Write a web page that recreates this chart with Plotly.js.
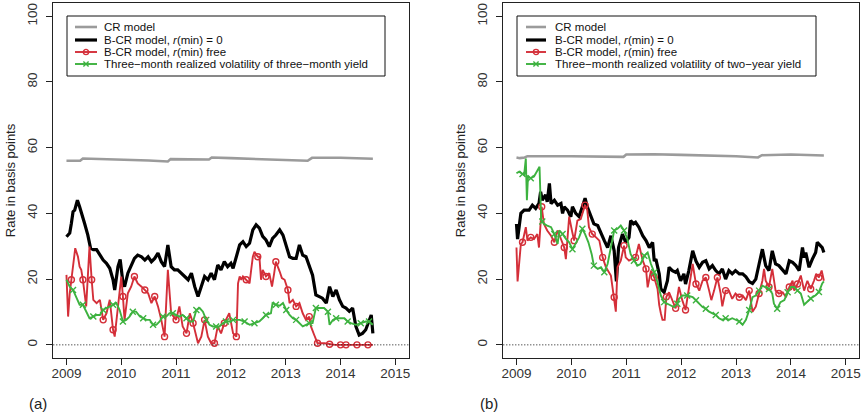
<!DOCTYPE html>
<html>
<head>
<meta charset="utf-8">
<script src="https://cdn.plot.ly/plotly-3.0.1.min.js"></script>
<style>
  html, body { margin: 0; padding: 0; background: #fff; }
  #chart { width: 865px; height: 418px; }
</style>
</head>
<body>
<div id="chart"></div>
<script>
// ---------- Panel (a): three-month yield ----------
const crDatesA = [2009.00, 2009.25, 2009.30, 2009.60, 2010.00, 2010.50, 2010.85, 2010.90, 2011.60, 2011.65,
  2012.00, 2012.50, 2013.00, 2013.40, 2013.48, 2014.00, 2014.59];
const crA = [56.0, 56.0, 56.7, 56.6, 56.4, 56.1, 55.8, 56.5, 56.4, 57.0,
  56.8, 56.5, 56.2, 56.0, 56.9, 56.9, 56.6];

const bcrZeroDatesA = [2009.00, 2009.03, 2009.06, 2009.09, 2009.12, 2009.15, 2009.20, 2009.24, 2009.27, 2009.33,
  2009.39, 2009.44, 2009.49, 2009.55, 2009.61, 2009.67, 2009.73, 2009.79, 2009.85, 2009.88,
  2009.94, 2009.98, 2010.03, 2010.06, 2010.12, 2010.18, 2010.24, 2010.30, 2010.37, 2010.43,
  2010.49, 2010.55, 2010.61, 2010.67, 2010.73, 2010.79, 2010.85, 2010.91, 2010.97, 2011.03,
  2011.09, 2011.15, 2011.22, 2011.28, 2011.34, 2011.40, 2011.46, 2011.52, 2011.58, 2011.64,
  2011.70, 2011.76, 2011.82, 2011.88, 2011.94, 2012.00, 2012.04, 2012.10, 2012.16, 2012.22,
  2012.28, 2012.34, 2012.40, 2012.46, 2012.52, 2012.58, 2012.64, 2012.70, 2012.76, 2012.82,
  2012.89, 2012.95, 2013.01, 2013.07, 2013.13, 2013.19, 2013.25, 2013.31, 2013.37, 2013.43,
  2013.49, 2013.55, 2013.61, 2013.67, 2013.74, 2013.80, 2013.86, 2013.92, 2013.98, 2014.04,
  2014.10, 2014.16, 2014.22, 2014.28, 2014.34, 2014.40, 2014.46, 2014.53, 2014.56, 2014.59];
const bcrZeroA = [32.9, 33.5, 34.0, 37.0, 40.5, 41.0, 44.0, 42.0, 40.0, 37.0,
  33.4, 29.4, 29.0, 29.0, 27.4, 25.8, 24.8, 23.3, 19.8, 16.7,
  23.8, 26.0, 19.0, 17.7, 21.8, 24.0, 26.3, 27.3, 26.8, 25.8,
  26.8, 25.3, 26.3, 27.9, 25.3, 23.8, 30.4, 23.8, 22.8, 22.8,
  21.8, 20.8, 19.8, 21.8, 17.7, 14.7, 17.7, 20.8, 19.8, 21.8,
  19.8, 24.3, 22.8, 25.3, 23.8, 24.8, 23.3, 26.8, 30.4, 31.4,
  29.9, 30.9, 35.0, 36.5, 35.5, 33.0, 31.9, 29.9, 32.4, 33.4,
  35.0, 33.4, 29.9, 26.8, 26.3, 26.3, 30.4, 27.3, 26.8, 24.3,
  21.2, 15.2, 14.7, 14.2, 12.7, 17.7, 14.7, 16.7, 13.7, 11.7,
  11.2, 10.2, 11.2, 5.6, 3.0, 3.5, 4.6, 7.6, 9.1, 3.5];

const bcrFreeDatesA = [2009.00, 2009.03, 2009.06, 2009.09, 2009.12, 2009.16, 2009.21, 2009.24, 2009.27, 2009.30,
  2009.36, 2009.42, 2009.46, 2009.49, 2009.55, 2009.61, 2009.67, 2009.73, 2009.79, 2009.85,
  2009.88, 2009.94, 2010.00, 2010.03, 2010.06, 2010.12, 2010.18, 2010.24, 2010.30, 2010.37,
  2010.43, 2010.49, 2010.55, 2010.61, 2010.67, 2010.73, 2010.79, 2010.85, 2010.91, 2011.00,
  2011.06, 2011.12, 2011.19, 2011.25, 2011.31, 2011.40, 2011.46, 2011.52, 2011.58, 2011.64,
  2011.70, 2011.76, 2011.82, 2011.88, 2011.97, 2012.04, 2012.10, 2012.13, 2012.16, 2012.19,
  2012.22, 2012.28, 2012.34, 2012.37, 2012.40, 2012.43, 2012.49, 2012.52, 2012.55, 2012.58,
  2012.64, 2012.70, 2012.75, 2012.79, 2012.82, 2012.89, 2012.93, 2012.98, 2013.04, 2013.07,
  2013.13, 2013.19, 2013.25, 2013.31, 2013.37, 2013.43, 2013.46, 2013.52, 2013.58, 2013.71,
  2013.80, 2013.90, 2014.00, 2014.10, 2014.20, 2014.30, 2014.40, 2014.50, 2014.59];
const bcrFreeA = [21.3, 8.6, 15.7, 19.8, 22.8, 29.4, 26.8, 23.8, 22.8, 19.8,
  11.7, 29.9, 19.8, 13.7, 12.7, 13.7, 7.6, 9.6, 13.7, 4.6,
  2.5, 12.7, 20.8, 14.7, 7.6, 15.7, 17.7, 20.8, 18.7, 17.7,
  16.7, 15.7, 12.7, 14.7, 11.7, 7.6, 2.5, 22.8, 9.6, 7.6,
  11.7, 5.6, 3.5, 9.6, 6.6, 0.5, 2.5, 7.6, 2.5, 0.5,
  0.5, 5.6, 3.5, 6.6, 9.6, 3.5, 2.5, 18.7, 20.8, 19.8,
  20.8, 19.8, 18.7, 22.8, 26.8, 28.3, 26.8, 26.8, 19.8, 22.8,
  20.8, 21.8, 17.7, 21.8, 25.3, 22.3, 20.3, 19.8, 16.7, 12.7,
  13.7, 11.7, 12.7, 9.6, 7.6, 8.6, 5.6, 3.0, 0.5, 0.5,
  0.2, 0, 0, 0, 0, 0, 0, 0, 0];

const rvolDatesA = [2009.00, 2009.06, 2009.12, 2009.18, 2009.24, 2009.30, 2009.36, 2009.42, 2009.49, 2009.55,
  2009.61, 2009.67, 2009.73, 2009.79, 2009.85, 2009.91, 2009.97, 2010.03, 2010.09, 2010.15,
  2010.21, 2010.27, 2010.34, 2010.40, 2010.46, 2010.52, 2010.58, 2010.64, 2010.70, 2010.76,
  2010.82, 2010.88, 2010.94, 2011.00, 2011.06, 2011.12, 2011.19, 2011.25, 2011.31, 2011.37,
  2011.43, 2011.49, 2011.55, 2011.61, 2011.67, 2011.73, 2011.79, 2011.85, 2011.91, 2011.97,
  2012.04, 2012.16, 2012.25, 2012.34, 2012.43, 2012.52, 2012.58, 2012.64, 2012.73, 2012.76,
  2012.82, 2012.89, 2012.95, 2013.01, 2013.07, 2013.13, 2013.19, 2013.25, 2013.31, 2013.37,
  2013.43, 2013.49, 2013.55, 2013.64, 2013.70, 2013.77, 2013.80, 2013.86, 2013.92, 2014.01,
  2014.07, 2014.13, 2014.19, 2014.28, 2014.37, 2014.46, 2014.52, 2014.59];
const rvolA = [19.8, 17.7, 16.7, 14.2, 12.2, 12.2, 10.1, 8.1, 8.6, 9.1,
  9.1, 10.6, 11.2, 11.7, 12.2, 12.7, 10.6, 7.1, 7.6, 8.6,
  10.1, 10.1, 8.6, 8.1, 7.6, 7.6, 6.1, 6.1, 7.1, 8.6,
  8.6, 9.6, 9.6, 9.1, 8.6, 9.1, 8.1, 7.1, 7.1, 10.6,
  11.2, 10.1, 7.6, 6.1, 5.6, 5.6, 5.6, 6.6, 7.1, 7.1,
  7.6, 7.6, 7.1, 6.1, 6.6, 7.1, 8.1, 9.1, 9.6, 12.7,
  12.2, 11.9, 12.7, 10.6, 9.1, 8.1, 7.6, 6.6, 5.6, 6.1,
  6.6, 6.6, 11.2, 11.2, 11.2, 10.1, 6.1, 7.6, 8.1, 8.1,
  8.1, 7.1, 6.6, 6.1, 6.6, 7.1, 7.1, 6.1];

// ---------- Panel (b): two-year yield ----------
const crDatesB = [2009.00, 2009.06, 2009.15, 2009.20, 2010.00, 2010.95, 2011.00, 2011.50, 2012.00, 2012.50,
  2013.00, 2013.40, 2013.47, 2014.00, 2014.60];
const crB = [57.0, 56.8, 57.0, 57.4, 57.4, 57.2, 57.9, 58.0, 57.8, 57.6,
  57.4, 57.0, 57.7, 57.9, 57.6];

const bcrZeroDatesB = [2009.00, 2009.02, 2009.08, 2009.14, 2009.23, 2009.29, 2009.35, 2009.41, 2009.44, 2009.47,
  2009.53, 2009.56, 2009.60, 2009.63, 2009.69, 2009.75, 2009.81, 2009.84, 2009.87, 2009.93,
  2009.99, 2010.02, 2010.08, 2010.14, 2010.20, 2010.25, 2010.29, 2010.35, 2010.41, 2010.48,
  2010.54, 2010.60, 2010.66, 2010.72, 2010.78, 2010.82, 2010.86, 2010.93, 2010.99, 2011.05,
  2011.08, 2011.13, 2011.17, 2011.23, 2011.30, 2011.36, 2011.42, 2011.48, 2011.51, 2011.54,
  2011.60, 2011.63, 2011.69, 2011.75, 2011.78, 2011.84, 2011.90, 2011.93, 2011.99, 2012.05,
  2012.08, 2012.14, 2012.21, 2012.27, 2012.33, 2012.39, 2012.45, 2012.51, 2012.57, 2012.63,
  2012.69, 2012.75, 2012.81, 2012.87, 2012.93, 2012.99, 2013.06, 2013.12, 2013.18, 2013.24,
  2013.30, 2013.36, 2013.42, 2013.48, 2013.54, 2013.60, 2013.66, 2013.72, 2013.78, 2013.85,
  2013.91, 2013.97, 2014.03, 2014.09, 2014.15, 2014.21, 2014.24, 2014.27, 2014.33, 2014.39,
  2014.45, 2014.48, 2014.53, 2014.57, 2014.60];
const bcrZeroB = [36.8, 32.2, 40.0, 41.0, 41.0, 42.5, 41.5, 43.0, 46.6, 44.0,
  45.6, 43.5, 49.1, 43.0, 44.0, 42.5, 43.0, 40.0, 42.0, 41.0,
  39.0, 42.0, 40.0, 39.0, 42.0, 44.6, 42.0, 39.5, 36.8, 36.3,
  33.7, 31.7, 29.6, 33.2, 28.6, 19.3, 29.6, 33.7, 31.2, 32.7,
  37.8, 36.8, 37.3, 35.8, 33.2, 31.7, 29.6, 31.2, 25.5, 26.1,
  21.6, 17.0, 16.0, 19.5, 23.6, 22.6, 22.1, 22.6, 19.5, 21.6,
  18.5, 22.6, 28.6, 25.5, 23.6, 25.1, 25.6, 23.1, 24.1, 22.6,
  21.6, 23.1, 20.0, 22.6, 21.6, 22.6, 21.6, 21.6, 20.7, 19.2,
  18.7, 20.0, 24.6, 29.1, 24.1, 22.6, 28.6, 24.6, 24.1, 22.6,
  21.6, 25.6, 25.1, 24.1, 22.6, 29.6, 26.6, 28.1, 23.6, 26.1,
  28.1, 31.2, 30.2, 29.6, 28.1];

const bcrFreeDatesB = [2009.00, 2009.02, 2009.08, 2009.11, 2009.17, 2009.20, 2009.26, 2009.32, 2009.38, 2009.41,
  2009.46, 2009.50, 2009.56, 2009.63, 2009.69, 2009.75, 2009.81, 2009.87, 2009.90, 2009.96,
  2010.01, 2010.05, 2010.11, 2010.17, 2010.25, 2010.29, 2010.32, 2010.38, 2010.45, 2010.51,
  2010.57, 2010.63, 2010.72, 2010.78, 2010.81, 2010.84, 2010.90, 2010.96, 2010.99, 2011.05,
  2011.11, 2011.17, 2011.23, 2011.30, 2011.36, 2011.39, 2011.45, 2011.51, 2011.57, 2011.60,
  2011.63, 2011.66, 2011.70, 2011.73, 2011.78, 2011.84, 2011.90, 2011.96, 2012.02, 2012.08,
  2012.14, 2012.21, 2012.27, 2012.33, 2012.39, 2012.45, 2012.51, 2012.55, 2012.60, 2012.66,
  2012.72, 2012.75, 2012.81, 2012.87, 2012.93, 2012.99, 2013.06, 2013.12, 2013.18, 2013.24,
  2013.30, 2013.36, 2013.42, 2013.48, 2013.51, 2013.54, 2013.60, 2013.66, 2013.72, 2013.78,
  2013.85, 2013.91, 2013.97, 2014.03, 2014.06, 2014.12, 2014.18, 2014.24, 2014.30, 2014.36,
  2014.42, 2014.46, 2014.51, 2014.56, 2014.60];
const bcrFreeB = [29.6, 19.3, 30.7, 31.2, 35.8, 31.7, 32.7, 32.2, 33.7, 29.6,
  42.0, 36.8, 34.8, 33.2, 31.2, 34.8, 32.2, 29.6, 26.1, 39.0,
  34.8, 31.7, 37.8, 38.3, 42.5, 41.0, 35.8, 33.7, 32.7, 31.7,
  26.6, 23.6, 21.1, 14.5, 10.1, 23.6, 25.6, 30.2, 26.6, 25.6,
  26.1, 26.6, 30.7, 25.6, 23.1, 17.5, 22.6, 20.5, 17.0, 12.2,
  9.6, 7.6, 7.6, 14.6, 16.0, 13.6, 11.1, 17.6, 13.6, 10.6,
  17.6, 24.6, 18.5, 16.5, 19.5, 20.5, 16.5, 13.6, 16.5, 20.5,
  15.6, 11.7, 16.5, 16.5, 14.0, 15.6, 14.5, 15.0, 13.6, 16.5,
  10.1, 11.6, 15.6, 19.5, 23.1, 19.5, 17.6, 23.1, 16.5, 15.6,
  16.0, 14.5, 17.6, 19.5, 16.5, 18.5, 21.1, 16.5, 19.5, 17.0,
  19.5, 21.6, 20.5, 22.6, 19.5];

const rvolDatesB = [2009.00, 2009.05, 2009.11, 2009.14, 2009.17, 2009.19, 2009.21, 2009.26, 2009.32, 2009.38,
  2009.42, 2009.45, 2009.47, 2009.50, 2009.56, 2009.63, 2009.69, 2009.75, 2009.78, 2009.84,
  2009.90, 2009.96, 2010.02, 2010.08, 2010.14, 2010.20, 2010.25, 2010.31, 2010.37, 2010.41,
  2010.48, 2010.54, 2010.60, 2010.66, 2010.72, 2010.78, 2010.84, 2010.90, 2010.96, 2011.02,
  2011.08, 2011.14, 2011.20, 2011.26, 2011.33, 2011.39, 2011.45, 2011.51, 2011.57, 2011.63,
  2011.69, 2011.75, 2011.81, 2011.87, 2011.93, 2011.96, 2012.02, 2012.11, 2012.21, 2012.27,
  2012.33, 2012.39, 2012.45, 2012.51, 2012.57, 2012.63, 2012.69, 2012.75, 2012.81, 2012.87,
  2012.93, 2012.99, 2013.06, 2013.12, 2013.18, 2013.24, 2013.30, 2013.36, 2013.42, 2013.48,
  2013.54, 2013.60, 2013.66, 2013.69, 2013.75, 2013.81, 2013.88, 2013.94, 2014.00, 2014.06,
  2014.12, 2014.18, 2014.24, 2014.30, 2014.36, 2014.45, 2014.51, 2014.57, 2014.60];
const rvolB = [52.2, 52.7, 52.0, 51.7, 56.7, 44.0, 51.2, 50.7, 51.2, 53.2,
  54.2, 38.0, 37.5, 36.8, 36.3, 35.8, 33.7, 30.7, 34.8, 33.7,
  32.2, 31.2, 29.1, 30.7, 32.7, 35.3, 33.7, 31.2, 27.6, 24.1,
  23.1, 23.6, 22.1, 24.6, 29.6, 34.8, 35.3, 36.3, 34.8, 32.2,
  27.6, 25.6, 24.1, 24.6, 27.1, 28.1, 24.6, 22.1, 19.0, 15.0,
  13.0, 12.5, 12.0, 11.5, 12.5, 14.0, 15.0, 15.0, 14.5, 13.6,
  12.5, 11.5, 11.0, 10.1, 9.6, 9.1, 8.1, 7.6, 8.1, 7.6,
  8.1, 7.6, 7.1, 6.1, 7.6, 10.6, 14.5, 15.0, 16.5, 18.0,
  17.5, 17.0, 15.6, 12.5, 11.0, 13.0, 13.6, 16.0, 17.6, 17.6,
  16.5, 15.6, 12.2, 13.1, 14.1, 15.1, 16.1, 18.7, 19.3];

const yearTicks = [2009, 2010, 2011, 2012, 2013, 2014, 2015];
const rateTicks = [0, 20, 40, 60, 80, 100];

const legendLabelsA = ['CR model', 'B-CR model, <i>r</i>(min) = 0', 'B-CR model, <i>r</i>(min) free',
  'Three\u2212month realized volatility of three\u2212month yield'];
const legendLabelsB = ['CR model', 'B-CR model, <i>r</i>(min) = 0', 'B-CR model, <i>r</i>(min) free',
  'Three\u2212month realized volatility of two\u2212year yield'];

// ---------- styling ----------
const FONT = 'Liberation Sans, Arial, Helvetica, sans-serif';
const COL = { cr: '#9b9b9b', zero: '#000000', free: '#d42f39', rvol: '#3db23f' };
const WID = { cr: 2.6, zero: 3.2, free: 1.9, rvol: 1.9 };
const W = 865, H = 418, TOP = 3, BOTTOM = 358;
const PX = v => v / W;
const PY = v => (BOTTOM - v) / (BOTTOM - TOP);

// symbols sit on every tenth weekly observation; pick the sampled point nearest to each of those dates
function markerSubset(xs, ys) {
  const mx = [], my = [];
  for (let k = 0; 2009.10 + 0.187 * k <= 2014.56; k++) {
    const t = 2009.10 + 0.187 * k;
    let best = 0;
    for (let i = 1; i < xs.length; i++) if (Math.abs(xs[i] - t) < Math.abs(xs[best] - t)) best = i;
    mx.push(xs[best]); my.push(ys[best]);
  }
  return { x: mx, y: my };
}

function panelTraces(xa, ya, cr, zero, free, rvol) {
  const base = { type: 'scatter', xaxis: xa, yaxis: ya, hoverinfo: 'skip', showlegend: false };
  const fm = markerSubset(free[0], free[1]);
  const gm = markerSubset(rvol[0], rvol[1]);
  return [
    { ...base, x: cr[0], y: cr[1], mode: 'lines', line: { color: COL.cr, width: WID.cr } },
    { ...base, x: zero[0], y: zero[1], mode: 'lines', line: { color: COL.zero, width: WID.zero } },
    { ...base, x: free[0], y: free[1], mode: 'lines', line: { color: COL.free, width: WID.free } },
    { ...base, x: fm.x, y: fm.y, mode: 'markers',
      marker: { symbol: 'circle-open', size: 6, color: COL.free, line: { color: COL.free, width: 1.4 } } },
    { ...base, x: rvol[0], y: rvol[1], mode: 'lines', line: { color: COL.rvol, width: WID.rvol } },
    { ...base, x: gm.x, y: gm.y, mode: 'markers',
      marker: { symbol: 'x-thin-open', size: 6, color: COL.rvol, line: { color: COL.rvol, width: 1.4 } } }
  ];
}

const data = [
  ...panelTraces('x', 'y', [crDatesA, crA], [bcrZeroDatesA, bcrZeroA], [bcrFreeDatesA, bcrFreeA], [rvolDatesA, rvolA]),
  ...panelTraces('x2', 'y2', [crDatesB, crB], [bcrZeroDatesB, bcrZeroB], [bcrFreeDatesB, bcrFreeB], [rvolDatesB, rvolB])
];

function xAxis(domain, anchor) {
  return {
    domain, anchor, range: [2008.76, 2015.24], tickmode: 'array', tickvals: yearTicks,
    ticktext: yearTicks.map(String), ticks: 'outside', ticklen: 6, tickwidth: 1, tickcolor: '#222',
    showline: true, mirror: true, linecolor: '#222', linewidth: 1, showgrid: false, zeroline: false,
    tickfont: { family: FONT, size: 13.5, color: '#333' }, ticklabelstandoff: -3, fixedrange: true
  };
}
function yAxis(anchor) {
  return {
    domain: [0, 1], anchor, range: [-4, 104], tickmode: 'array', tickvals: rateTicks,
    ticktext: rateTicks.map(String), ticks: 'outside', ticklen: 6, tickwidth: 1, tickcolor: '#222',
    tickangle: -90, showline: true, mirror: true, linecolor: '#222', linewidth: 1, showgrid: false,
    zeroline: false, tickfont: { family: FONT, size: 13.5, color: '#333' }, ticklabelstandoff: 4,
    title: { text: 'Rate in basis points', font: { family: FONT, size: 13, color: '#222' }, standoff: 6 },
    fixedrange: true
  };
}

// legend boxes are drawn by hand so the rows sit as tightly as the base-graphics legend
function legendParts(box, labels) {
  const shapes = [], annotations = [];
  shapes.push({ type: 'rect', xref: 'paper', yref: 'paper', x0: PX(box.x0), x1: PX(box.x1),
    y0: PY(box.y1), y1: PY(box.y0), line: { color: '#111', width: 1 }, fillcolor: 'rgba(255,255,255,0)' });
  const keys = ['cr', 'zero', 'free', 'rvol'];
  keys.forEach((k, i) => {
    const yy = box.rows[i];
    shapes.push({ type: 'line', xref: 'paper', yref: 'paper', x0: PX(box.l0), x1: PX(box.l1),
      y0: PY(yy), y1: PY(yy), line: { color: COL[k], width: WID[k] } });
    annotations.push({ xref: 'paper', yref: 'paper', x: PX(box.tx), y: PY(yy), xanchor: 'left', yanchor: 'middle',
      text: labels[i], showarrow: false, font: { family: FONT, size: 11.5, color: '#111' } });
  });
  const cx = (box.l0 + box.l1) / 2, r = 2.6;
  shapes.push({ type: 'circle', xref: 'paper', yref: 'paper', x0: PX(cx - r), x1: PX(cx + r),
    y0: PY(box.rows[2] + r), y1: PY(box.rows[2] - r), line: { color: COL.free, width: 1.4 } });
  const gy = box.rows[3];
  shapes.push({ type: 'path', xref: 'paper', yref: 'paper',
    path: `M${PX(cx - r)},${PY(gy - r)} L${PX(cx + r)},${PY(gy + r)} M${PX(cx - r)},${PY(gy + r)} L${PX(cx + r)},${PY(gy - r)}`,
    line: { color: COL.rvol, width: 1.4 } });
  return { shapes, annotations };
}

const legA = legendParts({ x0: 67, x1: 385, y0: 16, y1: 76, l0: 75, l1: 97, tx: 102, rows: [27, 40, 52, 64] }, legendLabelsA);
const legB = legendParts({ x0: 517, x1: 816, y0: 16, y1: 76, l0: 526, l1: 546, tx: 553, rows: [27, 40, 52, 64] }, legendLabelsB);

const zeroLine = (xr, yr) => ({ type: 'line', xref: xr + ' domain', yref: yr, x0: 0, x1: 1, y0: 0, y1: 0,
  line: { color: '#111', width: 1, dash: '1px,2px' } });

const layout = {
  width: W, height: H, margin: { l: 0, r: 0, t: TOP, b: H - BOTTOM },
  paper_bgcolor: '#fff', plot_bgcolor: '#fff', showlegend: false,
  xaxis: xAxis([PX(53.3), PX(408.5)], 'y'),
  yaxis: yAxis('x'),
  xaxis2: xAxis([PX(503.3), PX(859)], 'y2'),
  yaxis2: yAxis('x2'),
  shapes: [zeroLine('x', 'y'), zeroLine('x2', 'y2'), ...legA.shapes, ...legB.shapes],
  annotations: [
    ...legA.annotations, ...legB.annotations,
    { xref: 'paper', yref: 'paper', x: PX(27), y: PY(403), xanchor: 'left', yanchor: 'middle', text: '(a)',
      showarrow: false, font: { family: FONT, size: 15, color: '#222' } },
    { xref: 'paper', yref: 'paper', x: PX(478), y: PY(403), xanchor: 'left', yanchor: 'middle', text: '(b)',
      showarrow: false, font: { family: FONT, size: 15, color: '#222' } }
  ]
};

Plotly.newPlot('chart', data, layout, { staticPlot: true, displayModeBar: false });
</script>
</body>
</html>
